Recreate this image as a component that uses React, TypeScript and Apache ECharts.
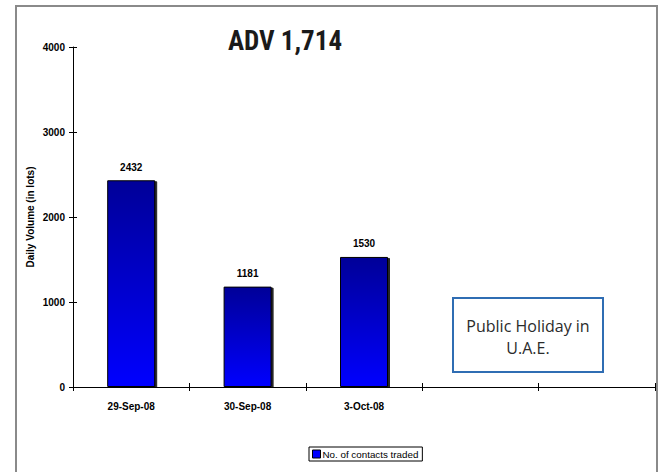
import React, { useEffect, useRef } from "react";
import * as echarts from "echarts";

const categories = ["29-Sep-08", "30-Sep-08", "3-Oct-08", "", ""];
const volumes: (number | string)[] = [2432, 1181, 1530, "-", "-"];
const yTicks = { min: 0, max: 4000, interval: 1000 };
const titleText = "ADV 1,714";
const seriesName = "No. of contacts traded";
const yAxisName = "Daily Volume (in lots)";
const noteText = "Public Holiday in\nU.A.E.";

export default function App() {
  const ref = useRef<HTMLDivElement>(null);
  useEffect(() => {
    if (!ref.current) return;
    const chart = echarts.init(ref.current, undefined, { renderer: "svg" });
    const font = "Arial, 'Liberation Sans', sans-serif";
    chart.setOption({
      animation: false,
      backgroundColor: "#ffffff",
      title: {
        text: titleText,
        left: 280,
        textAlign: "center",
        top: 22,
        textStyle: {
          fontFamily: "'Roboto Condensed', Roboto, sans-serif",
          fontWeight: "bold",
          fontSize: 27,
          color: "#1a1a1a",
        },
      },
      grid: { left: 73, right: 4, top: 47, bottom: 85, containLabel: false },
      legend: {
        data: [{ name: seriesName, itemStyle: { color: "#0000ff", borderColor: "#000", borderWidth: 1 } }],
        left: 309,
        bottom: 11,
        orient: "horizontal",
        itemWidth: 8,
        itemHeight: 8,
        itemGap: 2,
        padding: [2, 4, 2, 3],
        borderColor: "#000",
        borderWidth: 1,
        borderRadius: 0,
        icon: "rect",
        textStyle: { fontFamily: font, fontSize: 9.8, color: "#000", padding: [0, 0, 0, -3] },
      },
      xAxis: [
        {
          type: "category",
          data: categories,
          axisLine: { lineStyle: { color: "#000", width: 1 } },
          axisTick: { show: true, inside: false, length: 4, interval: 0, lineStyle: { color: "#000" } },
          axisLabel: { fontFamily: font, fontWeight: "bold", fontSize: 10, color: "#000", margin: 14, interval: 0 },
        },
        {
          type: "category",
          data: categories,
          position: "bottom",
          axisLine: { show: false },
          axisTick: { show: true, inside: true, length: 4, interval: 0, lineStyle: { color: "#000" } },
          axisLabel: { show: false },
        },
      ],
      yAxis: [
        {
          type: "value",
          min: yTicks.min,
          max: yTicks.max,
          interval: yTicks.interval,
          name: yAxisName,
          nameLocation: "middle",
          nameGap: 38,
          nameMoveOverlap: false,
          nameTextStyle: { fontFamily: font, fontWeight: "bold", fontSize: 10, color: "#000" },
          axisLine: { show: true, lineStyle: { color: "#000", width: 1 } },
          axisTick: { show: true, inside: false, length: 4, lineStyle: { color: "#000" } },
          axisLabel: {
            fontFamily: font,
            fontWeight: "bold",
            fontSize: 10,
            color: "#000",
            margin: 8,
            formatter: (v: number) => String(v),
          },
          splitLine: { show: false },
        },
        {
          type: "value",
          min: yTicks.min,
          max: yTicks.max,
          interval: yTicks.interval,
          position: "left",
          axisLine: { show: false },
          axisTick: { show: true, inside: true, length: 4, lineStyle: { color: "#000" } },
          axisLabel: { show: false },
          splitLine: { show: false },
        },
      ],
      series: [
        {
          name: seriesName,
          type: "bar",
          data: volumes,
          barWidth: 48,
          itemStyle: {
            color: new echarts.graphic.LinearGradient(0, 0, 0, 1, [
              { offset: 0, color: "#000098" },
              { offset: 1, color: "#0000ff" },
            ]),
            borderColor: "#000",
            borderWidth: 1,
            shadowColor: "rgba(0,0,0,0.85)",
            shadowOffsetX: 2,
            shadowOffsetY: 1,
            shadowBlur: 0,
          },
          label: {
            show: true,
            position: "top",
            distance: 8,
            fontFamily: font,
            fontWeight: "bold",
            fontSize: 10,
            color: "#000",
          },
        },
      ],
      graphic: [
        {
          type: "rect",
          silent: true,
          shape: { x: 16, y: 6, width: 641, height: 480 },
          style: { fill: "none", stroke: "#8a8a8a", lineWidth: 2 },
        },
        {
          type: "rect",
          shape: { x: 453, y: 298, width: 150, height: 74 },
          style: { fill: "#ffffff", stroke: "#2f6db3", lineWidth: 2 },
        },
        {
          type: "text",
          x: 528,
          y: 337,
          style: {
            text: noteText,
            fill: "#2b2b2b",
            fontFamily: "'Open Sans', 'Noto Sans', sans-serif",
            fontSize: 16,
            lineHeight: 22,
            align: "center",
            verticalAlign: "middle",
          },
        },
      ],
    });
    return () => chart.dispose();
  }, []);
  return (
    <div
      ref={ref}
      style={{ position: "fixed", left: 0, top: 0, width: 659, height: 472 }}
    />
  );
}
